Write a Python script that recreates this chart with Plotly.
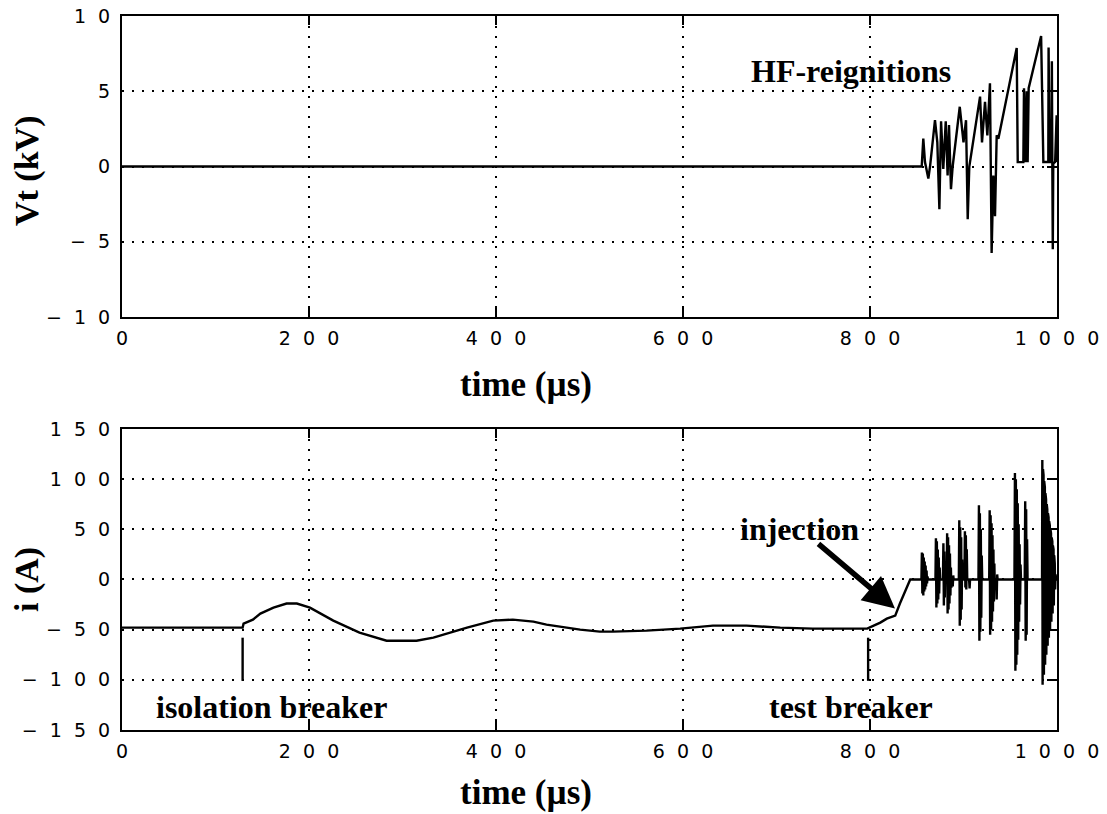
import plotly.graph_objects as go

# ---------------- data ----------------
# Top panel: transient voltage Vt (kV) vs time (us)
v_t = [0, 850, 855.3, 857, 858.8, 862.4, 864.2, 869.5, 872, 874.2, 876, 878.4, 881, 883, 884.5,
       886.6, 888.4, 896, 900, 902.7, 904.5, 906.2, 917.7, 919.8, 923, 925.5, 928.3, 930.1,
       931.9, 933.7, 935.5, 937.3, 956.9, 958, 964, 964.7, 966.5, 967.6, 968.6, 969.7, 983,
       985.4, 990.7, 991, 992, 994, 994.5, 995, 995.5, 996, 998, 999.6, 1000]
v_kv = [0, 0, 0, 1.85, 0.3, -0.8, 0, 3.08, 1.6, -2.84, 3.0, -0.16, 3.0, -0.6, 2.75,
        -1.5, 0, 3.97, 1.6, 3.08, -3.5, 0, 4.64, 1.6, 4.3, 2.07, 5.53, -5.74,
        -0.6, -3.3, 2.07, 1.85, 7.88, 0.29, 0.29, 5.2, 0.29, 5.0, 0.29, 5.2, 8.67,
        0.3, 0.3, 7.9, 0.3, 0.3, 7.0, 0.2, -5.5, 0.2, 0.3, 3.4, 0.3]

# Bottom panel: current i (A) vs time (us) -- low-frequency part
base_t = [0, 129, 130, 140, 148, 162, 176, 187, 201, 226, 254, 283, 315, 333, 369, 397, 418,
          440, 454, 476, 490, 511, 525, 561, 597, 632, 668, 704, 739, 797, 811, 818, 827, 832, 843]
base_i = [-48, -48, -44, -40, -34, -28, -24, -24, -28, -41, -53, -61, -61, -58, -48, -41, -40,
          -42, -45, -48, -50, -52, -52, -51, -49, -46, -46, -48, -49, -49, -43, -39, -36, -24, 0]

# HF current bursts after injection
hf_t = [855, 855.5, 856, 856.5, 857, 857.5, 858, 858.5, 859, 859.5, 860, 860.5, 861, 861.5, 862,
        870, 870.5, 871, 871.5, 872, 872.5, 873, 873.5, 874, 874.5, 875,
        878, 878.5, 879, 879.5, 880, 880.5, 881,
        882, 882.5, 883, 883.5, 884, 884.5, 885, 885.5, 886, 886.5, 887, 887.5,
        888, 888.5, 889, 889.5,
        895, 895.5, 896, 896.5, 897, 897.5, 898, 898.5, 899,
        901, 901.5, 902, 902.5, 903, 903.5, 904,
        906, 906.5, 907,
        916, 916.5, 917, 917.5, 918, 918.5, 919, 919.5, 920,
        927.5, 928, 928.5, 929, 929.5, 930, 930.5, 931, 931.5, 932, 932.5, 933, 933.5, 934,
        935, 935.5, 936, 936.5,
        954.5, 955, 955.5, 956, 956.5, 957, 957.5, 958, 958.5, 959, 959.5, 960, 960.5, 961, 961.5,
        965.5, 966, 966.5, 967, 967.5, 968, 968.5,
        984, 984.3, 984.6, 985, 985.3, 985.6, 986, 986.3, 986.6, 987, 987.3, 987.6, 988, 988.3,
        988.6, 989, 989.3, 989.6, 990, 990.3, 990.6, 991, 991.3, 991.6, 992, 992.3, 992.6, 993,
        993.3, 993.6, 994, 994.3, 994.6, 995, 995.3, 995.6, 996, 996.3, 996.6, 997, 997.3,
        997.6, 998, 998.5, 999, 1000]
hf_i = [0, 27, -14, 26, -16, 22, -12, 18, -10, 14, -7, 9, -4, 3, 0,
        0, 41, -28, 38, -24, 30, -20, 22, -14, 12, 0,
        0, 36, -26, 28, -18, 10, 0,
        0, 46, -34, 42, -30, 34, -24, 26, -16, 12, -8, 0,
        0, -7, 4, 0,
        0, 59, -46, 52, -40, 42, -30, 20, 0,
        0, 48, -8, 44, -10, 30, 0,
        0, -9, 0,
        0, 74, -61, 66, -52, 50, -38, 24, 0,
        0, 69, -55, 64, -50, 56, -42, 44, -32, 30, -22, 16, -10, 0,
        0, -20, 5, 0,
        0, 106, -91, 100, -85, 90, -75, 76, -60, 55, -42, 35, -25, 15, 0,
        0, 78, -61, 70, -55, 40, 0,
        0, 119, -105, 110, -100, 104, -95, 98, -90, 92, -85, 86, -80, 80,
        -75, 75, -70, 70, -66, 66, -62, 62, -58, 58, -54, 54, -50, 50,
        -46, 46, -42, 42, -38, 38, -34, 34, -30, 30, -26, 24, -20,
        16, -10, 5, 0, 0]

i_t = base_t + hf_t
i_a = base_i + hf_i

# breaker operation markers
marker_t = [129, 798]
marker_top = -58
marker_bottom = -101

# tick values and labels (spaced digits as in the original)
SP = "\u2007"
def spaced(s):
    return SP.join(list(s))

x_ticks = [0, 200, 400, 600, 800, 1000]
x_labels = [spaced(str(v)) for v in x_ticks]
v_ticks = [-10, -5, 0, 5, 10]
v_labels = ["\u2212" + SP + spaced("10"), "\u2212" + SP + "5", "0", "5", spaced("10")]
i_ticks = [-150, -100, -50, 0, 50, 100, 150]
i_labels = ["\u2212" + SP + spaced("150"), "\u2212" + SP + spaced("100"), "\u2212" + SP + spaced("50"),
            "0", spaced("50"), spaced("100"), spaced("150")]

# ---------------- figure ----------------
BLACK = "black"
tickfont = dict(family="DejaVu Sans", size=19, color=BLACK)
serif = "Liberation Serif, Times New Roman, serif"
grid = dict(showgrid=True, gridcolor=BLACK, gridwidth=1.8, griddash="2px,8px", zeroline=False)

fig = go.Figure()
fig.add_trace(go.Scatter(x=v_t, y=v_kv, mode="lines", line=dict(color=BLACK, width=2.4),
                         xaxis="x", yaxis="y", hoverinfo="skip"))
fig.add_trace(go.Scatter(x=i_t, y=i_a, mode="lines", line=dict(color=BLACK, width=2.4),
                         xaxis="x2", yaxis="y2", hoverinfo="skip"))
for mt in marker_t:
    fig.add_trace(go.Scatter(x=[mt, mt], y=[marker_top, marker_bottom], mode="lines",
                             line=dict(color=BLACK, width=2.4), xaxis="x2", yaxis="y2",
                             hoverinfo="skip"))
# dummy traces for right-hand tick axes
fig.add_trace(go.Scatter(x=[None], y=[None], xaxis="x", yaxis="y3", hoverinfo="skip"))
fig.add_trace(go.Scatter(x=[None], y=[None], xaxis="x2", yaxis="y4", hoverinfo="skip"))

xcommon = dict(range=[0, 1000], tickvals=x_ticks, ticktext=x_labels, ticks="inside", ticklen=9,
               tickwidth=2, tickcolor=BLACK, showline=True, linewidth=2, linecolor=BLACK,
               mirror="ticks", tickfont=tickfont, ticklabelstandoff=3, automargin=False, **grid)
ycommon = dict(ticks="", showline=True, linewidth=2, linecolor=BLACK, mirror=True,
               tickfont=tickfont, ticklabelstandoff=6, automargin=False, **grid)
yright = dict(side="right", ticks="inside", ticklen=10, tickwidth=2, tickcolor=BLACK,
              showticklabels=False, showgrid=False, zeroline=False, showline=False, automargin=False)

top_dom = [0.5784, 1.0]
bot_dom = [0.0, 0.4216]

fig.update_layout(
    width=1107, height=814,
    margin=dict(l=122, r=50, t=16, b=84, autoexpand=False),
    paper_bgcolor="white", plot_bgcolor="white",
    showlegend=False,
    xaxis=dict(domain=[0, 1], anchor="y", **xcommon),
    yaxis=dict(domain=top_dom, anchor="x", range=[-10, 10], tickvals=v_ticks, ticktext=v_labels, **ycommon),
    xaxis2=dict(domain=[0, 1], anchor="y2", **xcommon),
    yaxis2=dict(domain=bot_dom, anchor="x2", range=[-150, 150], tickvals=i_ticks, ticktext=i_labels, **ycommon),
    yaxis3=dict(overlaying="y", anchor="x", range=[-10, 10], tickvals=v_ticks, **yright),
    yaxis4=dict(overlaying="y2", anchor="x2", range=[-150, 150], tickvals=i_ticks, **yright),
)

annots = [
    # axis titles
    dict(text="<b>time (µs)</b>", xref="paper", yref="paper", x=0.432, y=0.4832, showarrow=False,
         font=dict(family=serif, size=35, color=BLACK), xanchor="center", yanchor="middle"),
    dict(text="<b>time (µs)</b>", xref="paper", yref="paper", x=0.432, y=-0.0882, showarrow=False,
         font=dict(family=serif, size=35, color=BLACK), xanchor="center", yanchor="middle"),
    dict(text="<b>Vt (kV)</b>", xref="paper", yref="paper", x=-0.1016, y=0.7829, showarrow=False,
         textangle=-90, font=dict(family=serif, size=34, color=BLACK), xanchor="center", yanchor="middle"),
    dict(text="<b>i (A)</b>", xref="paper", yref="paper", x=-0.1016, y=0.2101, showarrow=False,
         textangle=-90, font=dict(family=serif, size=34, color=BLACK), xanchor="center", yanchor="middle"),
    # labels in the plots
    dict(text="<b>HF-reignitions</b>", xref="x", yref="y", x=780, y=6.35, showarrow=False,
         font=dict(family=serif, size=32, color=BLACK), xanchor="center", yanchor="middle"),
    dict(text="<b>isolation breaker</b>", xref="x2", yref="y2", x=160, y=-127, showarrow=False,
         font=dict(family=serif, size=32, color=BLACK), xanchor="center", yanchor="middle"),
    dict(text="<b>test breaker</b>", xref="x2", yref="y2", x=780, y=-127, showarrow=False,
         font=dict(family=serif, size=32, color=BLACK), xanchor="center", yanchor="middle"),
    dict(text="<b>injection</b>", xref="x2", yref="y2", x=725, y=50, showarrow=False,
         font=dict(family=serif, size=32, color=BLACK), xanchor="center", yanchor="middle"),
    # arrow pointing at the injection
    dict(text="", xref="x2", yref="y2", x=826.7, y=-29, showarrow=True, ax=-78, ay=-66,
         arrowhead=2, arrowsize=1.15, arrowwidth=5.5, arrowcolor=BLACK, standoff=0),
]
fig.update_layout(annotations=annots)

fig.write_html("out.html")
